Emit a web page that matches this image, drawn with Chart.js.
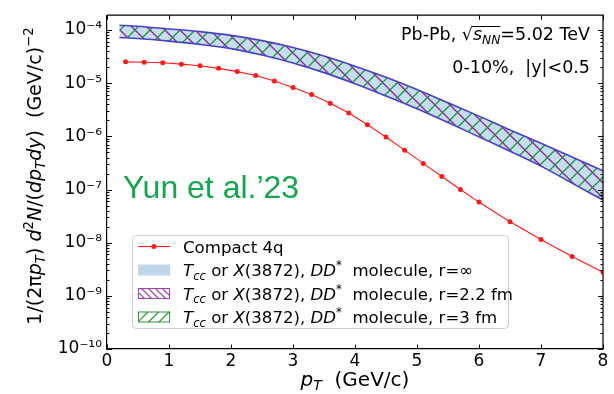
<!DOCTYPE html>
<html>
<head>
<meta charset="utf-8">
<script src="https://cdn.jsdelivr.net/npm/chart.js@4/dist/chart.umd.min.js"></script>
<style>
  html, body { margin: 0; padding: 0; background: #ffffff; }
  #wrap { width: 614px; height: 394px; }
</style>
</head>
<body>
<div id="wrap"><canvas id="c" width="614" height="394"></canvas></div>
<script>
// ---- data ----------------------------------------------------------------
// Compact tetraquark (4q) spectrum
const ptCompact = [0.3, 0.6, 0.9, 1.2, 1.5, 1.8, 2.1, 2.4, 2.7, 3.0, 3.3, 3.6,
                   3.9, 4.2, 4.5, 4.8, 5.1, 5.4, 5.7, 6.0, 6.5, 7.0, 7.5, 8.0];
const yCompact = [2.52e-5, 2.48e-5, 2.42e-5, 2.28e-5, 2.13e-5, 1.90e-5, 1.65e-5,
                  1.39e-5, 1.10e-5, 8.3e-6, 6.1e-6, 4.2e-6, 2.75e-6, 1.65e-6,
                  9.7e-7, 5.5e-7, 3.1e-7, 1.76e-7, 1.0e-7, 5.8e-8, 2.48e-8,
                  1.15e-8, 5.5e-9, 2.78e-9];

// DD* molecule band (upper / lower edge)
const ptBand = [0.2, 0.5, 1.0, 1.5, 2.0, 2.5, 3.0, 3.5, 4.0, 4.5, 5.0, 5.5, 6.0,
                6.5, 7.0, 7.5, 8.0];
const bandUpper = [1.23e-4, 1.175e-4, 1.047e-4, 9.33e-5, 7.94e-5, 6.31e-5, 4.68e-5,
                   3.24e-5, 2.09e-5, 1.29e-5, 7.59e-6, 4.27e-6, 2.40e-6, 1.32e-6,
                   7.41e-7, 4.07e-7, 2.24e-7];
const bandLower = [7.24e-5, 6.92e-5, 6.17e-5, 5.37e-5, 4.47e-5, 3.39e-5, 2.40e-5,
                   1.58e-5, 9.77e-6, 5.75e-6, 3.31e-6, 1.82e-6, 9.77e-7, 5.25e-7,
                   2.75e-7, 1.32e-7, 6.31e-8];

// axis ticks
const xTickValues = [0, 1, 2, 3, 4, 5, 6, 7, 8];
const yDecadeExps = [-10, -9, -8, -7, -6, -5, -4];
const yTickLabels = ['10\u207B\u00B9\u2070', '10\u207B\u2079', '10\u207B\u2078',
                     '10\u207B\u2077', '10\u207B\u2076', '10\u207B\u2075', '10\u207B\u2074'];

// legend
const compactLabel = 'Compact 4q';
const bandRadii = ['\u221E', '2.2 fm', '3 fm'];

// ---- styling --------------------------------------------------------------
const FAM = 'DejaVu Sans';
const RED = '#ff1a1a';
const EDGE = '#4a40c8';
const FILL = 'rgba(160,201,227,0.62)';
const PURPLE = '#8e1f96';
const GREEN = '#1f9236';

const canvas = document.getElementById('c');
const mainCtx = canvas.getContext('2d');

function hatchPattern(color, p, dir, lw) {
  const tile = document.createElement('canvas');
  tile.width = p; tile.height = p;
  const g = tile.getContext('2d');
  g.strokeStyle = color; g.lineWidth = lw;
  g.beginPath();
  for (const k of [-p, 0, p]) {
    if (dir === '\\') { g.moveTo(k, 0); g.lineTo(k + p, p); }
    else { g.moveTo(k, p); g.lineTo(k + p, 0); }
  }
  g.stroke();
  return mainCtx.createPattern(tile, 'repeat');
}

const purpleHatch = hatchPattern(PURPLE, 15, '\\', 1.3);
const greenHatch = hatchPattern(GREEN, 15, '/', 1.3);

const pts = (xs, ys) => xs.map((x, i) => ({ x: x, y: ys[i] }));

// ---- rich text (italic / sub / superscript runs) --------------------------
function fontOf(seg, size) {
  const s = size * ((seg.sub || seg.sup) ? 0.7 : 1);
  return (seg.it ? 'italic ' : '') + s + 'px "' + FAM + '"';
}
function richWidth(ctx, segs, size) {
  let w = 0;
  for (const seg of segs) { ctx.font = fontOf(seg, size); w += ctx.measureText(seg.t).width; }
  return w;
}
function drawRich(ctx, segs, x, y, size, align) {
  const w = richWidth(ctx, segs, size);
  let cx = align === 'right' ? x - w : align === 'center' ? x - w / 2 : x;
  const pos = [];
  ctx.textBaseline = 'alphabetic';
  ctx.textAlign = 'left';
  for (const seg of segs) {
    ctx.font = fontOf(seg, size);
    const dy = seg.sub ? 0.22 * size : seg.sup ? -0.42 * size : 0;
    ctx.fillText(seg.t, cx, y + dy);
    const sw = ctx.measureText(seg.t).width;
    pos.push({ x0: cx, x1: cx + sw });
    cx += sw;
  }
  return pos;
}

const moleculeSegs = r => [
  { t: 'T', it: 1 }, { t: 'cc', it: 1, sub: 1 }, { t: ' or ' },
  { t: 'X', it: 1 }, { t: '(3872), ' }, { t: 'DD', it: 1 }, { t: '*', sup: 1 },
  { t: '  molecule, r=' + r }
];

// ---- decorations drawn on top of the chart --------------------------------
const decorations = {
  id: 'decorations',
  afterDraw(chart) {
    const ctx = chart.ctx;
    const a = chart.chartArea;
    const xs = chart.scales.x, ys = chart.scales.y;
    ctx.save();

    // top and right spines
    ctx.strokeStyle = '#000'; ctx.lineWidth = 1.2;
    ctx.beginPath();
    ctx.moveTo(a.left, a.top); ctx.lineTo(a.right, a.top); ctx.lineTo(a.right, a.bottom);
    ctx.stroke();

    // inward tick marks
    ctx.lineWidth = 1;
    ctx.beginPath();
    for (const v of xTickValues) {
      const px = Math.round(xs.getPixelForValue(v)) + 0.5;
      ctx.moveTo(px, a.bottom); ctx.lineTo(px, a.bottom - 4.5);
      ctx.moveTo(px, a.top); ctx.lineTo(px, a.top + 4.5);
    }
    for (const t of ys.ticks) {
      if (t.value > ys.max || t.value < ys.min) continue;
      const len = t.major ? 5 : 2.5;
      const py = Math.round(ys.getPixelForValue(t.value)) + 0.5;
      ctx.moveTo(a.left, py); ctx.lineTo(a.left + len, py);
      ctx.moveTo(a.right, py); ctx.lineTo(a.right - len, py);
    }
    ctx.stroke();

    ctx.fillStyle = '#000';
    // x axis title
    drawRich(ctx, [{ t: 'p', it: 1 }, { t: 'T', it: 1, sub: 1 }, { t: '  (GeV/c)' }],
             (a.left + a.right) / 2, 386, 20, 'center');

    // y axis title
    ctx.save();
    ctx.translate(41, 176);
    ctx.rotate(-Math.PI / 2);
    drawRich(ctx, [
      { t: '1/(2\u03C0' }, { t: 'p', it: 1 }, { t: 'T', it: 1, sub: 1 }, { t: ') ' },
      { t: 'd', it: 1 }, { t: '2', sup: 1 }, { t: 'N', it: 1 }, { t: '/(' },
      { t: 'dp', it: 1 }, { t: 'T', it: 1, sub: 1 }, { t: 'dy', it: 1 }, { t: ')' },
      { t: '  (GeV/c)' }, { t: '\u22122', sup: 1 }
    ], 0, 0, 19, 'center');
    ctx.restore();

    // collision system annotation
    const aSize = 17.5;
    const p = drawRich(ctx, [
      { t: 'Pb-Pb, ' }, { t: '\u221A' }, { t: 's', it: 1 }, { t: 'NN', it: 1, sub: 1 },
      { t: '=5.02 TeV' }
    ], 590, 40, aSize, 'right');
    ctx.lineWidth = 1;
    ctx.beginPath();
    const barY = 40 - aSize * 0.80 + 0.5;
    ctx.moveTo(p[1].x1 - 1, barY); ctx.lineTo(p[3].x1, barY);
    ctx.stroke();
    drawRich(ctx, [{ t: '0-10%,  |y|<0.5' }], 590, 73, aSize, 'right');

    // author tag
    ctx.fillStyle = '#14a54e';
    ctx.font = '32px "Liberation Sans"';
    ctx.textAlign = 'left';
    ctx.fillText('Yun et al.\u201923', 123, 198);

    // legend
    const L = { x: 132.5, y: 235.5, w: 376, h: 93 };
    ctx.fillStyle = 'rgba(255,255,255,0.85)';
    ctx.strokeStyle = '#cfcfcf'; ctx.lineWidth = 1;
    ctx.beginPath();
    ctx.roundRect(L.x, L.y, L.w, L.h, 4);
    ctx.fill(); ctx.stroke();

    const rows = [246.5, 270, 293.5, 317];
    const hx0 = 138, hx1 = 170, tx = 183, lSize = 16.6;
    // compact 4q handle
    ctx.strokeStyle = RED; ctx.fillStyle = RED; ctx.lineWidth = 1.1;
    ctx.beginPath(); ctx.moveTo(hx0, rows[0]); ctx.lineTo(hx1, rows[0]); ctx.stroke();
    ctx.beginPath(); ctx.arc((hx0 + hx1) / 2, rows[0], 2.5, 0, Math.PI * 2); ctx.fill();
    // band handles
    const bh = 11;
    ctx.fillStyle = 'rgb(190,216,234)';
    ctx.fillRect(hx0, rows[1] - bh / 2, hx1 - hx0, bh);
    const hatchBox = (cy, color, dir, step) => {
      const y0 = cy - bh / 2, y1 = cy + bh / 2;
      ctx.save();
      ctx.beginPath(); ctx.rect(hx0, y0, hx1 - hx0, bh); ctx.clip();
      ctx.strokeStyle = color; ctx.lineWidth = 1.2;
      ctx.beginPath();
      for (let k = hx0 - bh - step; k < hx1 + step; k += step) {
        if (dir === '\\') { ctx.moveTo(k, y0); ctx.lineTo(k + bh, y1); }
        else { ctx.moveTo(k, y1); ctx.lineTo(k + bh, y0); }
      }
      ctx.stroke();
      ctx.restore();
      ctx.strokeStyle = color; ctx.lineWidth = 1;
      ctx.strokeRect(hx0 + 0.5, y0 + 0.5, hx1 - hx0 - 1, bh - 1);
    };
    hatchBox(rows[2], '#a23fb0', '\\', 7);
    hatchBox(rows[3], '#2f9a3d', '/', 10.5);

    ctx.fillStyle = '#000';
    drawRich(ctx, [{ t: compactLabel }], tx, rows[0] + 6, lSize, 'left');
    for (let i = 0; i < bandRadii.length; i++) {
      drawRich(ctx, moleculeSegs(bandRadii[i]), tx, rows[i + 1] + 6, lSize, 'left');
    }
    ctx.restore();
  }
};

// ---- chart ---------------------------------------------------------------
const LOWER_INDEX = 2;
new Chart(canvas, {
  type: 'line',
  data: {
    datasets: [
      {
        label: compactLabel, data: pts(ptCompact, yCompact),
        borderColor: RED, backgroundColor: RED, borderWidth: 1.1,
        pointRadius: 2.5, pointBorderWidth: 0, pointBackgroundColor: RED,
        tension: 0, fill: false, order: 0
      },
      {
        label: 'upper edge', data: pts(ptBand, bandUpper),
        borderColor: EDGE, borderWidth: 1.6, pointRadius: 0,
        cubicInterpolationMode: 'monotone', fill: false, order: 1
      },
      {
        label: 'lower edge', data: pts(ptBand, bandLower),
        borderColor: EDGE, borderWidth: 1.6, pointRadius: 0,
        cubicInterpolationMode: 'monotone', fill: false, order: 1
      },
      {
        label: 'r=\u221E', data: pts(ptBand, bandUpper),
        borderWidth: 0, pointRadius: 0, backgroundColor: FILL,
        cubicInterpolationMode: 'monotone', fill: LOWER_INDEX, order: 4
      },
      {
        label: 'r=2.2 fm', data: pts(ptBand, bandUpper),
        borderWidth: 0, pointRadius: 0, backgroundColor: purpleHatch,
        cubicInterpolationMode: 'monotone', fill: LOWER_INDEX, order: 3
      },
      {
        label: 'r=3 fm', data: pts(ptBand, bandUpper),
        borderWidth: 0, pointRadius: 0, backgroundColor: greenHatch,
        cubicInterpolationMode: 'monotone', fill: LOWER_INDEX, order: 2
      }
    ]
  },
  options: {
    responsive: false,
    animation: false,
    devicePixelRatio: 1,
    layout: { padding: { left: 0, top: 10, right: 11, bottom: 0 } },
    plugins: { legend: { display: false }, tooltip: { enabled: false } },
    scales: {
      x: {
        type: 'linear', min: 0, max: 8,
        afterBuildTicks: s => { s.ticks = xTickValues.map(v => ({ value: v })); },
        afterFit: s => { s.height = 45; },
        ticks: {
          autoSkip: false, maxRotation: 0, padding: 2, color: '#000',
          font: { family: FAM, size: 17 }
        },
        grid: { display: false, drawTicks: false },
        border: { display: true, color: '#000', width: 1.2 }
      },
      y: {
        type: 'logarithmic', min: 1e-10, max: 1.9e-4,
        afterBuildTicks: s => {
          const t = [];
          for (const e of yDecadeExps) {
            for (let m = 1; m <= 9; m++) {
              const v = parseFloat(m + 'e' + e);
              if (v <= s.max) t.push({ value: v, major: m === 1 });
            }
          }
          s.ticks = t;
        },
        afterFit: s => { s.width = 107; },
        ticks: {
          autoSkip: false, padding: 5, color: '#000',
          font: { family: FAM, size: 17 },
          callback: v => {
            const e = Math.log10(v);
            const r = Math.round(e);
            if (Math.abs(e - r) > 1e-6) return '';
            const i = yDecadeExps.indexOf(r);
            return i >= 0 ? yTickLabels[i] : '';
          }
        },
        grid: { display: false, drawTicks: false },
        border: { display: true, color: '#000', width: 1.2 }
      }
    }
  },
  plugins: [decorations]
});
</script>
</body>
</html>
